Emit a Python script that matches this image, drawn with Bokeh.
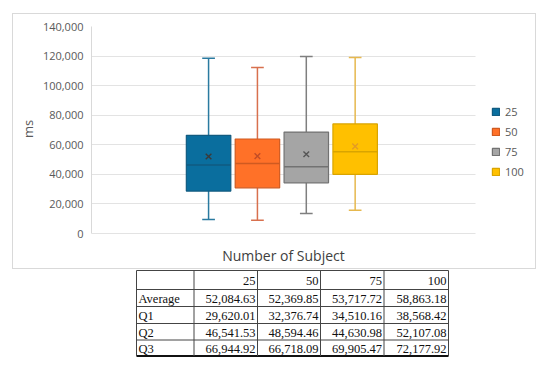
from bokeh.plotting import figure
from bokeh.models import (ColumnDataSource, Range1d, FixedTicker, NumeralTickFormatter,
                          Legend, LegendItem, Label, Title)
from bokeh.core.properties import value
from bokeh.embed import file_html
from bokeh.resources import INLINE

# ---------------- data ----------------
categories = ["25", "50", "75", "100"]
whisker_max = [118600, 112200, 119700, 119000]
box_q3 = [66400, 63900, 68600, 74100]
box_median = [46300, 47400, 45100, 55300]
box_q1 = [28700, 30900, 34300, 40000]
whisker_min = [9500, 9000, 13600, 15800]
box_mean = [52100, 52300, 53600, 58900]
y_ticks = [0, 20000, 40000, 60000, 80000, 100000, 120000, 140000]

table_rows = ["Average", "Q1", "Q2", "Q3"]
table_average = [52084.63, 52369.85, 53717.72, 58863.18]
table_q1 = [29620.01, 32376.74, 34510.16, 38568.42]
table_q2 = [46541.53, 48594.46, 44630.98, 52107.08]
table_q3 = [66944.92, 66718.09, 69905.47, 72177.92]

# ---------------- styles / geometry ----------------
fill_colors = ["#0a6e9e", "#ff7128", "#a5a5a5", "#ffc000"]
edge_colors = ["#115b80", "#cf5a20", "#727272", "#d9a400"]
whisker_colors = ["#2a7aa0", "#d8704e", "#7f7f7f", "#e6b84e"]
mean_colors = ["#3a3a3a", "#c24d26", "#555555", "#e39b25"]
FONT = "Open Sans"
BOX_W = 0.91
CAP_W = 0.26

ORIGIN = 0                     # page position of the canvas
ML, MT = 91, 26
FRAME_W, FRAME_H = 442, 331
MR, MB = 9, 1
W, H = ML + FRAME_W + MR, MT + FRAME_H + MB
PLOT_W, PLOT_H = 384, 207      # the chart's plot area inside the frame
X0, X_PLOT_END = -1.396, 6.463
Y_TOP = 140000
x_end = X0 + (X_PLOT_END - X0) * FRAME_W / PLOT_W
y_start = -Y_TOP * (FRAME_H - PLOT_H) / PLOT_H

xs = [i + 1 for i in range(len(categories))]
src = ColumnDataSource(dict(
    x=xs, cat=categories, q1=box_q1, q3=box_q3, med=box_median,
    lo=whisker_min, hi=whisker_max, mean=box_mean,
    fill=fill_colors, edge=edge_colors, wcol=whisker_colors, mcol=mean_colors,
    left=[x - BOX_W / 2 for x in xs], right=[x + BOX_W / 2 for x in xs],
    cl=[x - CAP_W / 2 for x in xs], cr=[x + CAP_W / 2 for x in xs],
))

p = figure(width=W, height=H, x_range=Range1d(X0, x_end), y_range=Range1d(y_start, Y_TOP),
           output_backend="svg", toolbar_location=None, title=None,
           min_border_left=ML, min_border_right=MR, min_border_top=MT, min_border_bottom=MB)
# page-pixel coordinates for the table below the chart
p.extra_x_ranges = {"px": Range1d(ORIGIN + ML, ORIGIN + ML + FRAME_W)}
p.extra_y_ranges = {"py": Range1d(ORIGIN + MT + FRAME_H, ORIGIN + MT)}

# light grey chart-area border (drawn behind a transparent canvas)
bx, by, bw, bh = 12 - ORIGIN, 13 - ORIGIN, 524, 256
g = "linear-gradient(#d9d9d9, #d9d9d9)"
p.styles = {
    "background-image": ", ".join([g] * 4),
    "background-position": f"{bx}px {by}px, {bx}px {by + bh - 1}px, {bx}px {by}px, {bx + bw - 1}px {by}px",
    "background-size": f"{bw}px 1px, {bw}px 1px, 1px {bh}px, 1px {bh}px",
    "background-repeat": "no-repeat",
}
p.outline_line_color = None
p.background_fill_color = None
p.border_fill_color = None
p.xgrid.visible = False
p.ygrid.ticker = FixedTicker(ticks=y_ticks)
p.ygrid.grid_line_color = "#e3e3e3"
p.ygrid.grid_line_width = 1
p.ygrid.cross_bounds = (X0, X_PLOT_END)
p.xaxis.visible = False

p.yaxis.ticker = FixedTicker(ticks=y_ticks)
p.yaxis.bounds = (0, Y_TOP)
p.yaxis.formatter = NumeralTickFormatter(format="0,0")
p.yaxis.major_tick_line_color = None
p.yaxis.minor_tick_line_color = None
p.yaxis.major_tick_out = 0
p.yaxis.major_tick_in = 0
p.yaxis.minor_tick_out = 0
p.yaxis.axis_line_color = "#d9d9d9"
p.yaxis.major_label_standoff = 8
p.yaxis.major_label_text_font = FONT
p.yaxis.major_label_text_font_size = "11px"
p.yaxis.major_label_text_color = "#595959"

# y-axis title "ms", centred on the chart's plot area
ms_center = 129 - ORIGIN - MT          # from frame top, px
p.add_layout(Title(text="ms", align="left", offset=FRAME_H - ms_center - 8.5,
                   text_font=FONT, text_font_size="13px", text_font_style="normal",
                   text_color="#595959", standoff=6), "left")

# whiskers
p.segment(x0="x", x1="x", y0="q3", y1="hi", source=src, line_color="wcol", line_width=1.5)
p.segment(x0="x", x1="x", y0="lo", y1="q1", source=src, line_color="wcol", line_width=1.5)
p.segment(x0="cl", x1="cr", y0="hi", y1="hi", source=src, line_color="wcol", line_width=1.5)
p.segment(x0="cl", x1="cr", y0="lo", y1="lo", source=src, line_color="wcol", line_width=1.5)
# boxes
boxes = p.vbar(x="x", width=BOX_W, bottom="q1", top="q3", source=src,
               fill_color="fill", line_color="edge", line_width=1.2)
# medians
p.segment(x0="left", x1="right", y0="med", y1="med", source=src, line_color="edge", line_width=1.5)
# means
p.scatter(x="x", y="mean", source=src, marker="x", size=8, line_color="mcol", line_width=1.4)

items = [LegendItem(label=c, renderers=[boxes], index=i) for i, c in enumerate(categories)]
legend = Legend(items=items, location=(400, 178), orientation="vertical",
                glyph_width=9, glyph_height=9, label_height=9, spacing=5,
                label_standoff=5, padding=0, margin=0,
                border_line_color=None, background_fill_alpha=0,
                label_text_font=FONT, label_text_font_size="11px",
                label_text_color="#595959", label_text_baseline="middle")
p.add_layout(legend, "center")

p.add_layout(Label(x=(X0 + X_PLOT_END) / 2, y=FRAME_H - (255 - ORIGIN - MT), y_units="screen",
                   text="Number of Subject", text_align="center", text_baseline="middle",
                   text_font=FONT, text_font_size="14px", text_color="#404040"))

# ---------------- table (page-pixel coordinates) ----------------
col_edges = [136, 193.5, 257, 320, 383.5, 448]
row_edges = [270, 289, 306, 323, 339.5, 355.5]
T = dict(x_range_name="px", y_range_name="py")

n_rows = len(row_edges)
p.segment(x0=[col_edges[0]] * (n_rows - 1), x1=[col_edges[-1]] * (n_rows - 1),
          y0=row_edges[:-1], y1=row_edges[:-1], line_color="#444444", line_width=1, **T)
p.segment(x0=[col_edges[0]], x1=[col_edges[-1]], y0=[row_edges[-1]], y1=[row_edges[-1]],
          line_color="#111111", line_width=2, **T)
p.segment(x0=col_edges, x1=col_edges, y0=[row_edges[0]] * len(col_edges),
          y1=[row_edges[-1]] * len(col_edges), line_color="#444444", line_width=1, **T)

series = [table_average, table_q1, table_q2, table_q3]
tx, ty, tt = [], [], []
for j, c in enumerate(categories):
    tx.append(col_edges[j + 2] - 2)
    ty.append((row_edges[0] + row_edges[1]) / 2 + 1)
    tt.append(c)
for r, vals in enumerate(series):
    for j, v in enumerate(vals):
        tx.append(col_edges[j + 2] - 2)
        ty.append((row_edges[r + 1] + row_edges[r + 2]) / 2 + 1)
        tt.append(f"{v:,.2f}")
p.text(x=tx, y=ty, text=tt, text_align="right", text_baseline="middle",
       text_font=value("Liberation Serif"), text_font_size="12.5px", text_color="#111111", **T)
lx = [col_edges[0] + 2] * len(table_rows)
ly = [(row_edges[r + 1] + row_edges[r + 2]) / 2 + 1 for r in range(len(table_rows))]
p.text(x=lx, y=ly, text=table_rows, text_align="left", text_baseline="middle",
       text_font=value("Liberation Serif"), text_font_size="12.5px", text_color="#111111", **T)

open("out.html", "w").write(file_html(p, INLINE))
